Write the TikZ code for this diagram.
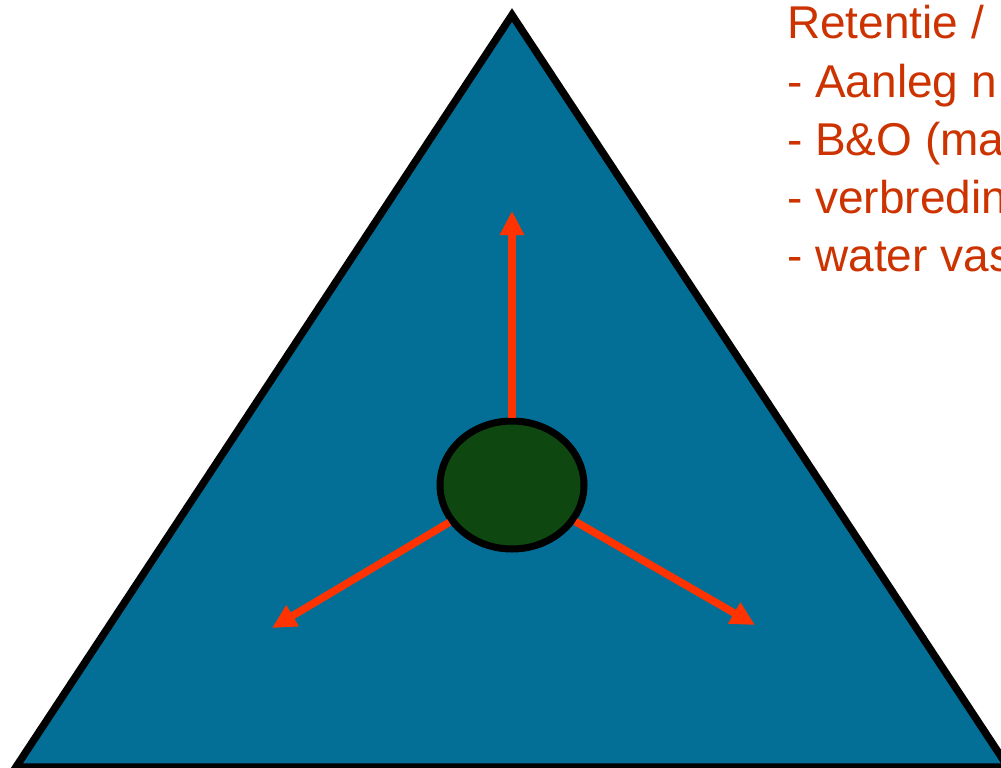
\documentclass[tikz,border=0pt]{standalone}
\usepackage{fontspec}
\setmainfont{Liberation Sans}
\usetikzlibrary{arrows.meta,shapes.geometric}
\definecolor{triblue}{RGB}{4,111,150}
\definecolor{hubgreen}{RGB}{14,71,16}
\definecolor{arrowred}{RGB}{255,51,0}
\definecolor{textred}{RGB}{204,51,0}
\tikzset{
  tri/.style={draw=black, fill=triblue, line width=7.5pt, line join=miter},
  hubnode/.style={ellipse, draw=black, fill=hubgreen, line width=7pt, inner sep=0pt, minimum width=144pt, minimum height=128pt},
  redarrow/.style={draw=arrowred, line width=7.5pt, -{Triangle[width=23pt,length=24pt]}},
  label/.style={anchor=base west, inner sep=0pt, text=textred, font=\fontsize{46pt}{58pt}\selectfont}
}
\begin{document}
\begin{tikzpicture}[x=1pt,y=-1pt]
\useasboundingbox (0,0) rectangle (1001,768);
\clip (0,0) rectangle (1001,768);
\coordinate (apex) at (512,15);
\coordinate (bl) at (16,767);
\coordinate (br) at (1008,767);
\draw[tri] (apex) -- (bl) -- (br) -- cycle;
\coordinate (tipU) at (512,211);
\coordinate (tipL) at (272,628);
\coordinate (tipR) at (755,625);
\node[hubnode] (hub) at (512,485) {};
\draw[redarrow] (hub) -- (tipU);
\draw[redarrow] (hub) -- (tipL);
\draw[redarrow] (hub) -- (tipR);
\node[label] (t1) at (787,39) {Retentie /};
\node[label] (t2) at (787,97) {- Aanleg n};
\node[label] (t3) at (787,155) {- B\&O (ma};
\node[label] (t4) at (787,213) {- verbredin};
\node[label] (t5) at (787,271) {- water vas};
\end{tikzpicture}
\end{document}
